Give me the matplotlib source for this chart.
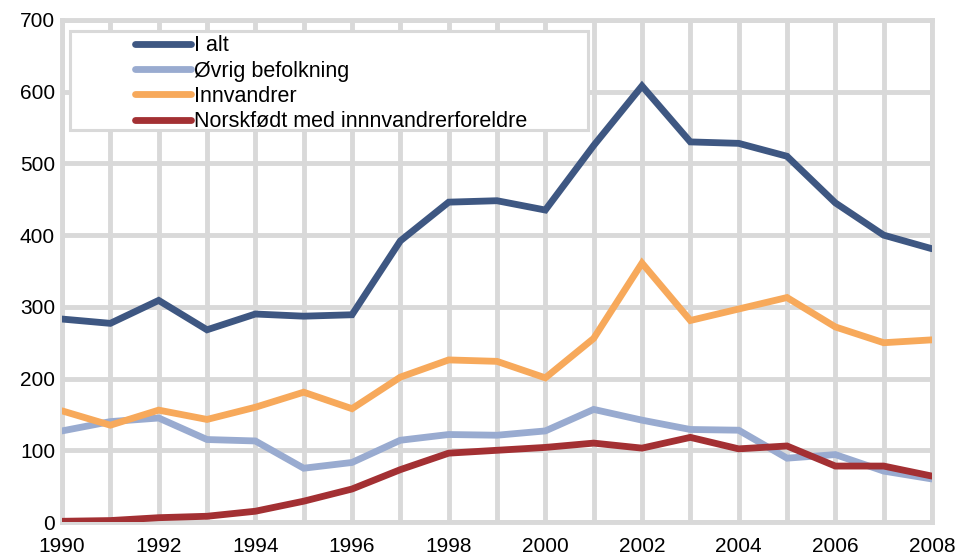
import matplotlib
matplotlib.use("Agg")
import matplotlib.pyplot as plt
from matplotlib.patches import Rectangle

years = list(range(1990, 2009))
i_alt = [283, 277, 309, 268, 290, 287, 289, 392, 446, 448, 435, 525, 608, 530, 528, 510, 445, 400, 381]
ovrig = [127, 140, 145, 115, 113, 75, 83, 114, 122, 121, 127, 157, 142, 129, 128, 89, 94, 71, 60]
innvandrer = [155, 135, 156, 143, 160, 181, 158, 202, 226, 224, 201, 256, 361, 281, 297, 313, 272, 250, 254]
norskfodt = [1, 2, 6, 8, 15, 29, 46, 73, 96, 100, 104, 110, 103, 118, 102, 106, 78, 78, 64]

labels = ["I alt", "Øvrig befolkning", "Innvandrer", "Norskfødt med innnvandrerforeldre"]
colors = ["#3e5782", "#99abd0", "#f7a95b", "#a33033"]
series = [i_alt, ovrig, innvandrer, norskfodt]
xticks = list(range(1990, 2009, 2))
yticks = list(range(0, 701, 100))

plt.rcParams['font.family'] = ['Liberation Sans', 'DejaVu Sans']

fig = plt.figure(figsize=(9.57, 5.58), dpi=100)
W, H = 870, 502
ax = fig.add_axes([62/957, 1-522/558, W/957, H/558])

grid_c = "#d9d9d9"
for s, lab, c in zip(series, labels, colors):
    ax.plot(years, s, color=c, lw=4.9, label=lab, solid_capstyle='round',
            solid_joinstyle='miter', zorder=3)

ax.set_xlim(1990, 2008)
ax.set_ylim(0, 700)
ax.set_xticks(xticks)
ax.set_yticks(yticks)
ax.set_xticks(years, minor=True)
ax.grid(True, which='both', color=grid_c, lw=3.5, zorder=0)
ax.set_axisbelow(True)
for sp in ax.spines.values():
    sp.set_color(grid_c)
    sp.set_linewidth(3.5)
ax.tick_params(axis='both', which='both', length=0, labelsize=15, colors='black')
ax.tick_params(axis='x', pad=11)
ax.tick_params(axis='y', pad=5)

# legend box
ax.add_patch(Rectangle(((70-62)/W, 1 - (130-20)/H), (588-70)/W, (130-31)/H,
                       transform=ax.transAxes, facecolor='white', edgecolor=grid_c,
                       lw=2.2, zorder=4))
leg = ax.legend(loc='upper left', bbox_to_anchor=((131-62)/W, 1 - (31-20)/H),
                frameon=False, fontsize=15.5, handlelength=2.6, handletextpad=0.12,
                labelspacing=0.2, borderpad=0.2, borderaxespad=0)
leg.set_zorder(5)

fig.savefig("out.png", dpi=100)
